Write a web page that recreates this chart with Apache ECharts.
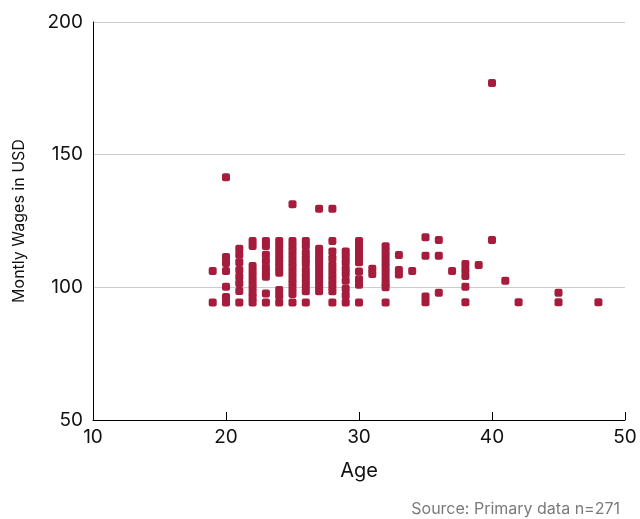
<!DOCTYPE html>
<html>
<head>
<meta charset="utf-8">
<script src="https://cdn.jsdelivr.net/npm/echarts@6/dist/echarts.min.js"></script>
<style>html,body{margin:0;padding:0;background:#fff;}#c{width:640px;height:519px;}</style>
</head>
<body>
<div id="c"></div>
<script>
// Data (age -> monthly wages in USD)
const ages = [
  19,19,
  20,20,20,20,20,20,20,
  21,21,21,21,21,21,21,21,
  22,22,22,22,22,22,22,22,22,22,
  23,23,23,23,23,23,23,23,23,
  24,24,24,24,24,24,24,24,24,24,
  25,25,25,25,25,25,25,25,25,25,25,25,25,
  26,26,26,26,26,26,26,26,26,26,26,
  27,27,27,27,27,27,27,27,27,27,
  28,28,28,28,28,28,28,28,28,28,28,
  29,29,29,29,29,29,29,29,29,
  30,30,30,30,30,30,30,30,30,
  31,31,
  32,32,32,32,32,32,32,32,32,32,
  33,33,33,
  34,
  35,35,35,35,
  36,36,36,
  37,
  38,38,38,38,38,
  39,
  40,40,
  41,
  42,
  45,45,
  48
];
const wages = [
  106.2,94.3,
  141.5,111.4,109.2,106.2,100.2,96.4,94.3,
  114.5,112.3,109.5,106.5,104,101.5,98.6,94.3,
  117.5,115.6,108,106,104,102,100,98,96.2,94.3,
  117.5,115.6,112.3,109.9,107.5,105.5,104,97.7,94.3,
  117.5,115.6,113.5,111.5,109.5,107.5,105.5,99,96.8,94.3,
  131.3,117.5,115.5,113.5,111.5,109.5,107.5,105.5,103.5,101.5,99.5,97.5,94.3,
  117.5,115.6,113,111,109,106.5,104.5,102.5,100.5,98.5,94.3,
  129.6,114.5,112.5,110.5,108.5,106.5,104.5,102.5,100.5,98.5,
  129.6,117.5,113.5,111,108.5,106.5,104.5,102.5,100.5,98.5,94.3,
  113.5,111.5,109.5,107,105,102.5,99.5,97,94.3,
  117.5,115.5,113.5,111.5,109.5,106,103,101,94.3,
  107,105,
  115.5,113.5,111.5,109.5,107.5,105.5,103.5,101.5,100,94.3,
  112.2,106.5,104.8,
  106.2,
  118.9,111.9,96.5,94.4,
  117.8,111.9,98,
  106.2,
  108.8,106.5,104.3,100.2,94.4,
  108.4,
  177,117.8,
  102.5,
  94.4,
  98,94.4,
  94.4
];
const xTicks = [10, 20, 30, 40, 50];
const yTicks = [50, 100, 150, 200];

const points = ages.map((a, i) => [a, wages[i]]);
const FONT = 'Inter, "Noto Sans", sans-serif';

const chart = echarts.init(document.getElementById('c'), null, {renderer: 'canvas'});
chart.setOption({
  animation: false,
  backgroundColor: '#fff',
  grid: {left: 93, right: 15, top: 22, bottom: 99, containLabel: false},
  xAxis: {
    type: 'value',
    min: xTicks[0], max: xTicks[xTicks.length - 1], interval: 10,
    name: 'Age', nameLocation: 'middle', nameGap: 41,
    nameTextStyle: {fontFamily: FONT, fontSize: 20, color: '#111'},
    axisLine: {show: true, onZero: false, lineStyle: {color: '#000', width: 1}},
    axisTick: {show: true, inside: true, length: 8, lineStyle: {color: '#000'}},
    axisLabel: {fontFamily: FONT, fontSize: 19, color: '#111', margin: 8},
    splitLine: {show: false}
  },
  yAxis: {
    type: 'value',
    min: yTicks[0], max: yTicks[yTicks.length - 1], interval: 50,
    name: 'Montly Wages in USD', nameLocation: 'middle', nameGap: 66,
    nameTextStyle: {fontFamily: FONT, fontSize: 16, color: '#111'},
    axisLine: {show: true, lineStyle: {color: '#000', width: 1}},
    axisTick: {show: false},
    axisLabel: {fontFamily: FONT, fontSize: 19, color: '#111', margin: 10},
    splitLine: {show: true, lineStyle: {color: '#cccccc', width: 1}}
  },
  graphic: [{
    type: 'text', right: 20, bottom: 2,
    style: {text: 'Source: Primary data n=271', fontFamily: FONT, fontSize: 16, fill: '#7a7a7a'}
  }],
  series: [{
    type: 'scatter',
    data: points,
    symbol: 'roundRect',
    symbolSize: 8,
    itemStyle: {color: '#a51c3c', opacity: 1}
  }]
});
</script>
</body>
</html>
